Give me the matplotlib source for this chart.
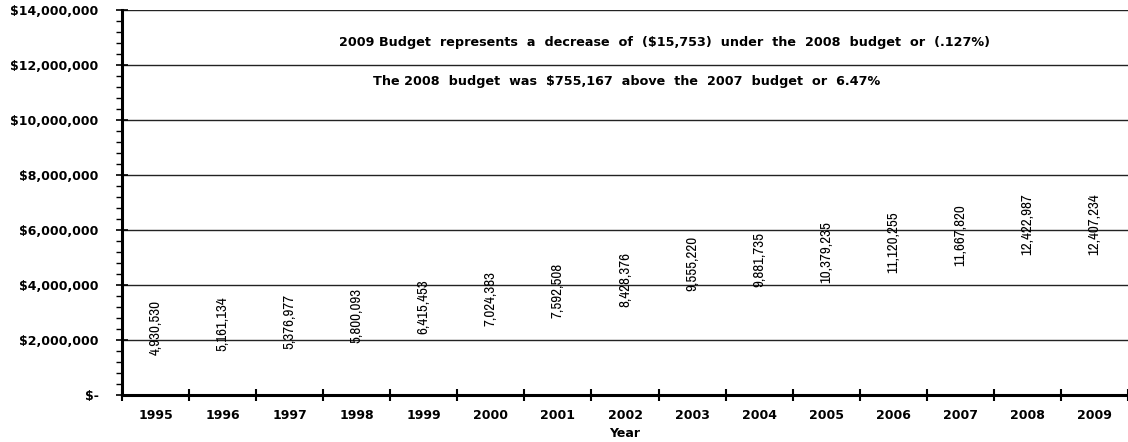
import matplotlib
matplotlib.use("Agg")
import matplotlib.pyplot as plt
from matplotlib import font_manager
from matplotlib.font_manager import FontProperties
from matplotlib.ticker import MultipleLocator, FuncFormatter, FixedLocator

years = ["1995", "1996", "1997", "1998", "1999", "2000", "2001", "2002",
         "2003", "2004", "2005", "2006", "2007", "2008", "2009"]
budget = [4930530, 5161134, 5376977, 5800093, 6415453, 7024383, 7592508, 8428376,
          9555220, 9881735, 10379235, 11120255, 11667820, 12422987, 12407234]
notes = [
    "2009 Budget  represents  a  decrease  of  ($15,753)  under  the  2008  budget  or  (.127%)",
    "The 2008  budget  was  $755,167  above  the  2007  budget  or  6.47%",
]


def pick_narrow_font():
    # a narrow/condensed regular face for the value labels, if one is installed
    fonts = font_manager.fontManager.ttflist
    for key in ("Narrow", "Condensed"):
        for f in fonts:
            name = f.name + " " + f.fname
            if key in name and f.weight in (400, "normal", "regular") and f.style == "normal":
                return FontProperties(fname=f.fname, size=10.8)
    return FontProperties(family="Liberation Sans", size=8.8)


label_font = pick_narrow_font()
bold_font = "DejaVu Sans"

fig = plt.figure(figsize=(11.28, 4.42), dpi=100)
ax = fig.add_axes([0.1082, 0.1063, 0.8918, 0.8700])

x = list(range(len(years)))
# bars carry the data labels only; they have no fill
bars = ax.bar(x, budget, width=0.6, facecolor="none", edgecolor="none")
texts = ax.bar_label(bars, labels=[f"{v:,.0f}" for v in budget], label_type="center",
                     rotation=90, color="black")
for t in texts:
    t.set_fontproperties(label_font)

ax.set_ylim(0, 14000000)
ax.set_xlim(-0.5, len(years) - 0.5)

ax.yaxis.set_major_locator(MultipleLocator(2000000))
ax.yaxis.set_minor_locator(MultipleLocator(400000))
ax.yaxis.set_major_formatter(FuncFormatter(lambda v, p: "$-" if v == 0 else f"${v:,.0f}"))
ax.grid(axis="y", which="major", color="#222222", linewidth=1.0)
ax.set_axisbelow(True)

# year ticks sit between categories, labels in the middle
ax.xaxis.set_major_locator(FixedLocator([i - 0.5 for i in range(len(years) + 1)]))
ax.xaxis.set_major_formatter(FuncFormatter(lambda v, p: ""))
ax.set_xticks(x, years, minor=True)

ax.tick_params(axis="x", which="major", direction="inout", length=8, width=1.5)
ax.tick_params(axis="x", which="minor", length=0, pad=10)
ax.tick_params(axis="y", which="major", direction="inout", length=9, width=1.2, pad=12.5)
ax.tick_params(axis="y", which="minor", direction="out", length=4, width=1.0)

for lab in ax.get_yticklabels() + ax.get_xticklabels(minor=True):
    lab.set_family(bold_font)
    lab.set_fontweight("bold")
    lab.set_fontsize(9)

ax.set_xlabel("Year", family=bold_font, fontweight="bold", fontsize=9, labelpad=4)

for side in ("top", "right"):
    ax.spines[side].set_visible(False)
for side in ("left", "bottom"):
    ax.spines[side].set_linewidth(2.2)

ax.text(0.539, 0.917, notes[0], transform=ax.transAxes, ha="center", va="center",
        family=bold_font, fontweight="bold", fontsize=9.2)
ax.text(0.502, 0.815, notes[1], transform=ax.transAxes, ha="center", va="center",
        family=bold_font, fontweight="bold", fontsize=9.2)

fig.savefig("out.png", dpi=100)
